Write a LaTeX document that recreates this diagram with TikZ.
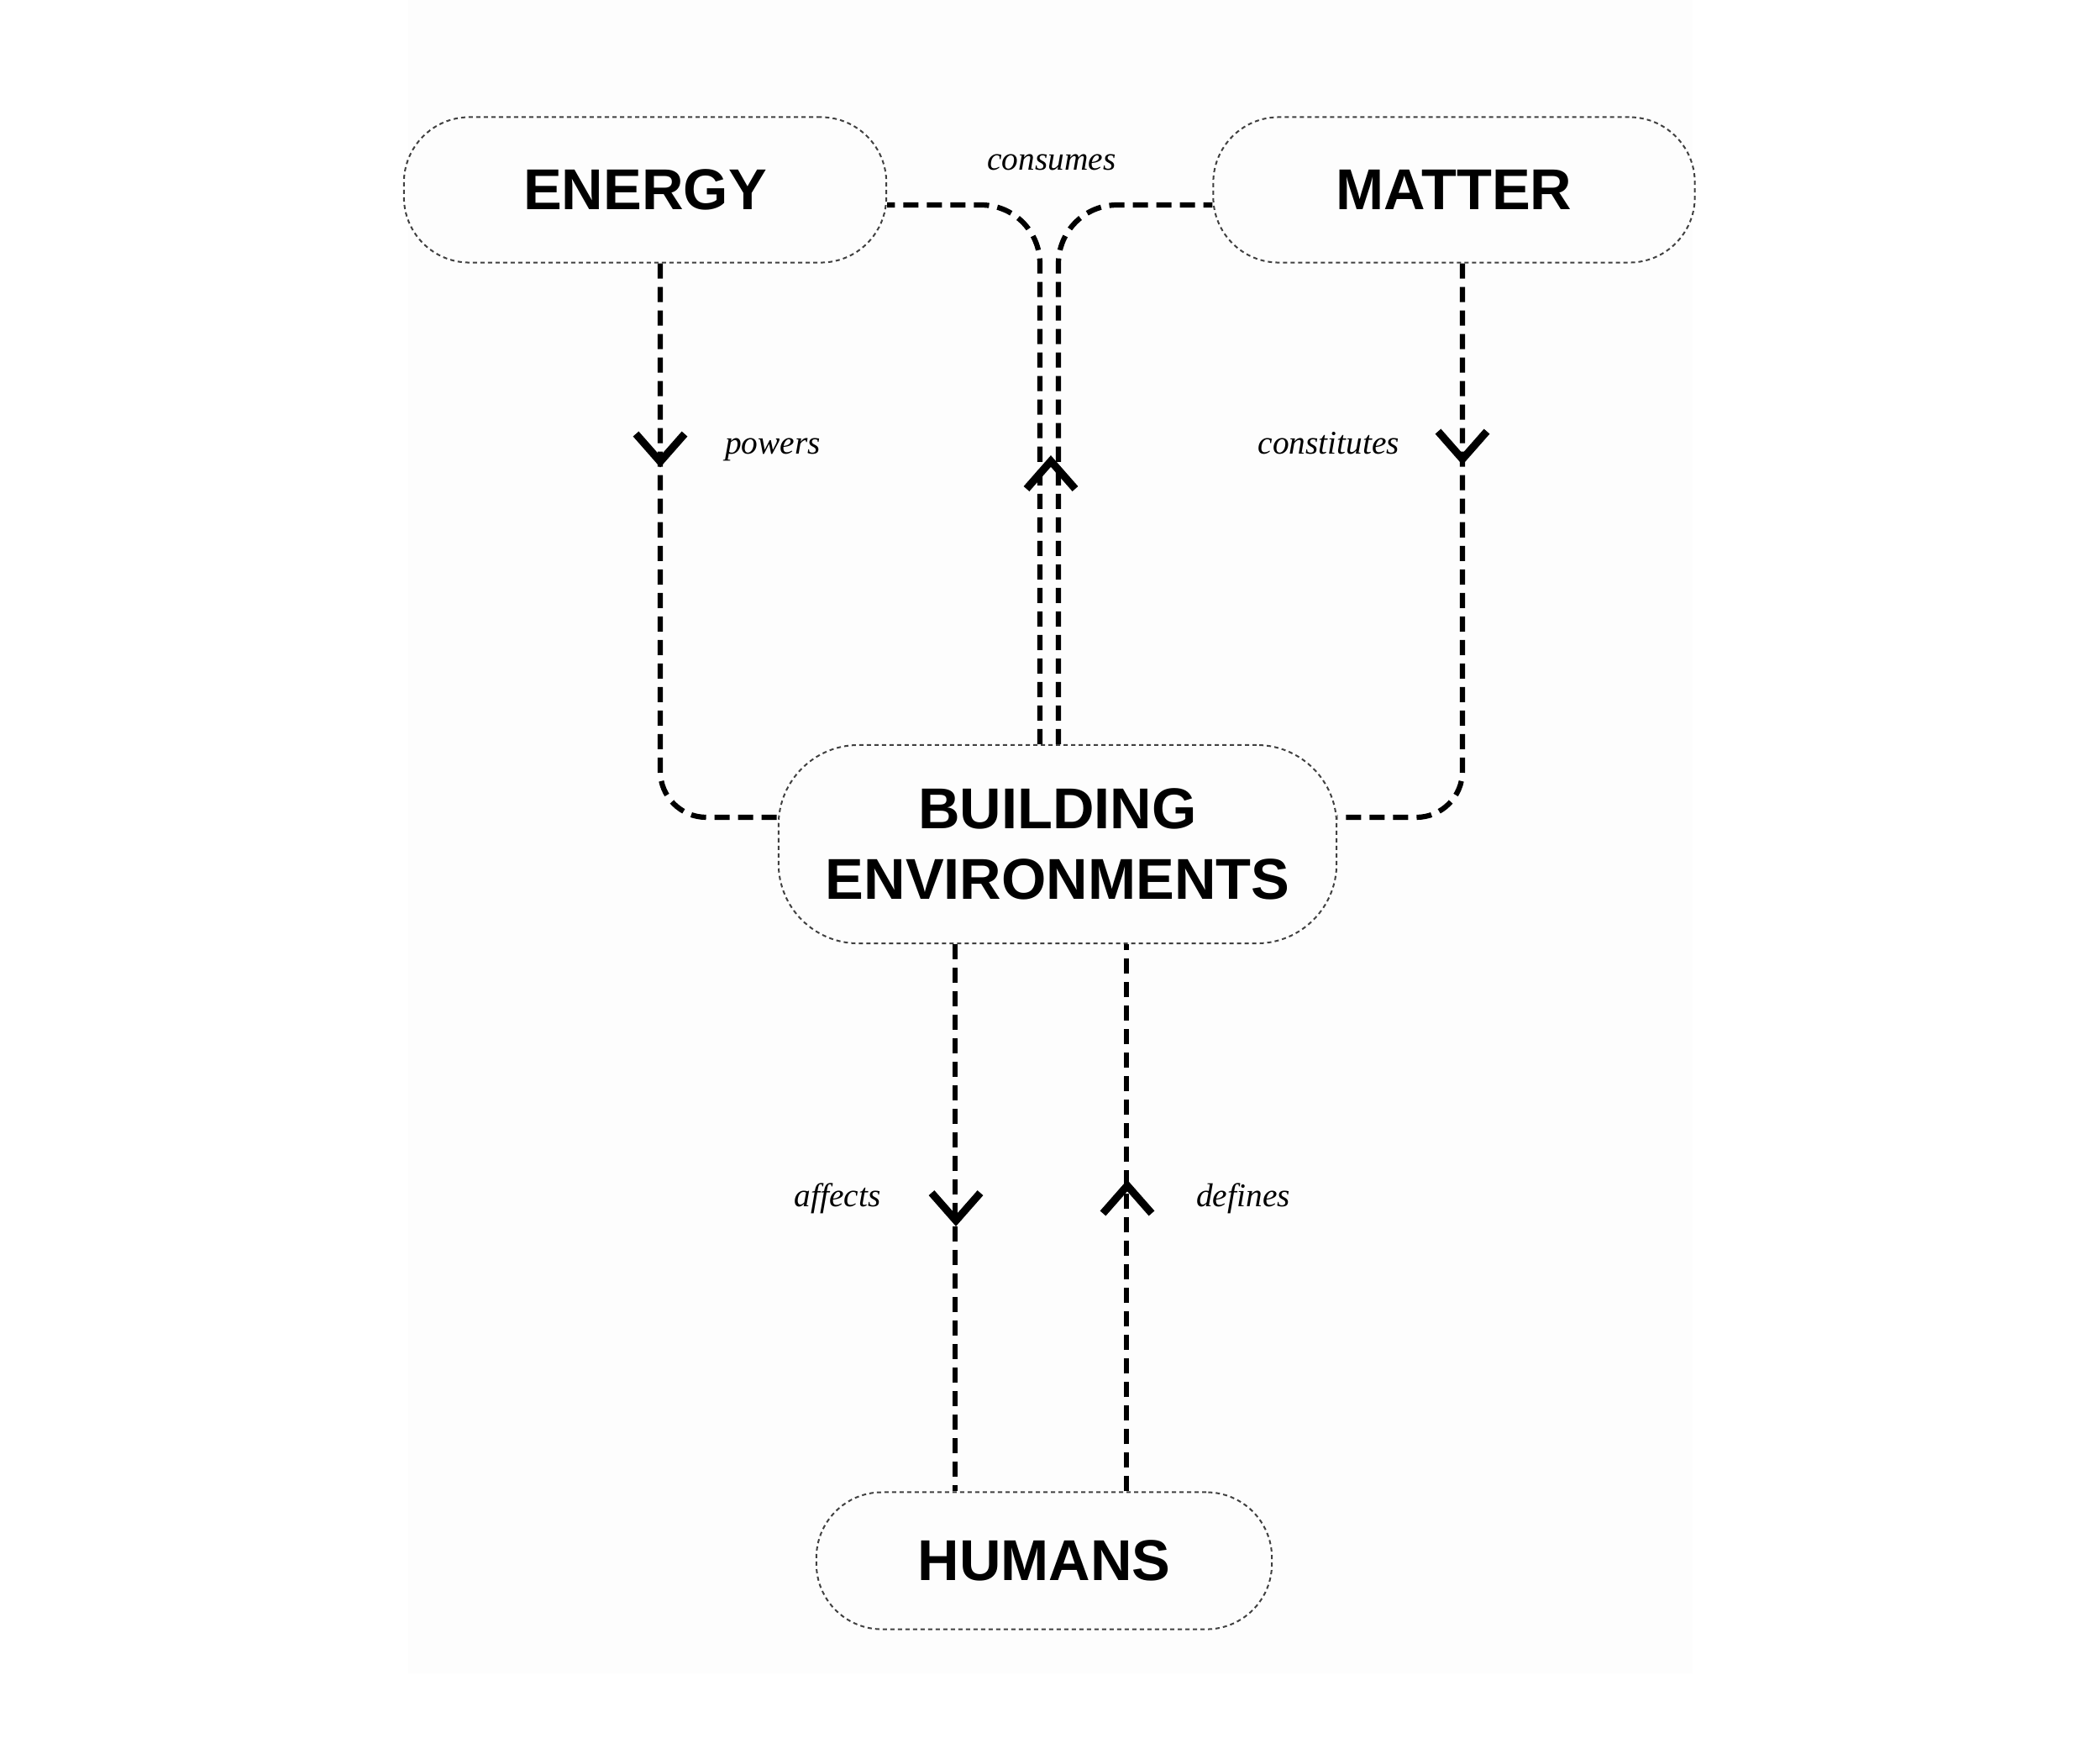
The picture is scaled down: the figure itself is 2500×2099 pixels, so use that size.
\documentclass[tikz,border=0pt]{standalone}
\usepackage{fontspec}
\setmainfont{Liberation Serif}
\setsansfont{Liberation Sans}
\usetikzlibrary{calc}
\begin{document}
\begin{tikzpicture}[x=0.01cm,y=-0.01cm,
 box/.style={draw=black!75, line width=0.02cm, dash pattern=on 0.05cm off 0.04cm,
   font=\sffamily\bfseries\fontsize{19.5}{23.9}\selectfont, align=center, inner sep=0pt},
 conn/.style={line width=0.062cm, dash pattern=on 0.18cm off 0.10cm},
 lbl/.style={font=\itshape\fontsize{11.2}{13}\selectfont, anchor=base},
 chev/.style={line width=0.09cm, solid, line join=miter},
 chevdown/.pic={\draw[chev] (-29,-33) -- (0,0) -- (29,-33);},
 chevup/.pic={\draw[chev] (-29,33) -- (0,0) -- (29,33);}
]
\useasboundingbox (0,0) rectangle (2500,2099);
\fill[black!0.6] (486,0) rectangle (2015,1992);

\node[box, minimum width=5.74cm, minimum height=1.73cm, rounded corners=0.78cm] (energy) at (768,226) {ENERGY};
\node[box, minimum width=5.73cm, minimum height=1.73cm, rounded corners=0.78cm] (matter) at (1731,226) {MATTER};
\node[box, minimum width=6.64cm, minimum height=2.36cm, rounded corners=0.95cm] (build) at (1259,1005) {BUILDING\\ENVIRONMENTS};
\node[box, minimum width=5.42cm, minimum height=1.63cm, rounded corners=0.78cm] (humans) at (1243,1858) {HUMANS};

\coordinate (xE) at (786,0);
\coordinate (xM) at (1741,0);
\coordinate (xC1) at (1238,0);
\coordinate (xC2) at (1260,0);
\coordinate (xA) at (1137,0);
\coordinate (xD) at (1341,0);
\coordinate (ySide) at (0,973);
\coordinate (yTop) at (0,244);

\draw[conn, rounded corners=0.55cm] (energy.south -| xE) |- (build.west |- ySide);
\draw[conn, rounded corners=0.55cm] (matter.south -| xM) |- (build.east |- ySide);
\draw[conn, rounded corners=0.7cm] (build.north -| xC1) |- (energy.east |- yTop);
\draw[conn, rounded corners=0.7cm] (build.north -| xC2) |- (matter.west |- yTop);
\draw[conn] (build.south -| xA) -- (humans.north -| xA);
\draw[conn] (humans.north -| xD) -- (build.south -| xD);

\pic at ($(energy.south -| xE)+(0,236)$) {chevdown};
\pic at ($(matter.south -| xM)+(0,233)$) {chevdown};
\pic at ($(build.north -| xC1)+(13,-337)$) {chevup};
\pic at ($(build.south -| xA)+(1,329)$) {chevdown};
\pic at ($(humans.north -| xD)+(1,-364)$) {chevup};

\node[lbl] (lc) at (1252,202) {consumes};
\node[lbl] (lp) at (920,540) {powers};
\node[lbl] (lcs) at (1582,540) {constitutes};
\node[lbl] (la) at (997,1436) {affects};
\node[lbl] (ld) at (1480,1436) {defines};
\end{tikzpicture}
\end{document}
